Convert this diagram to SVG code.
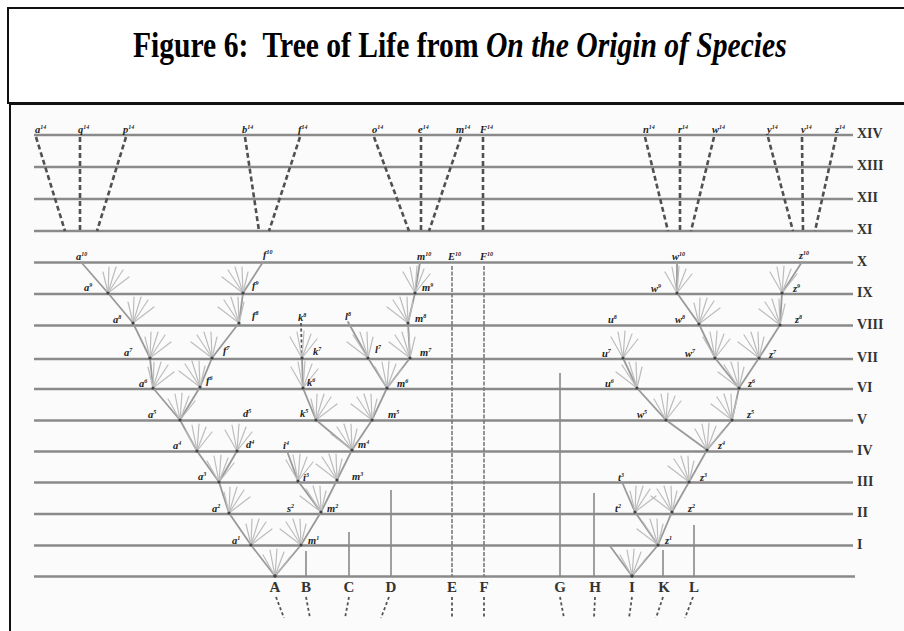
<svg xmlns="http://www.w3.org/2000/svg" xmlns:xlink="http://www.w3.org/1999/xlink" width="904" height="631" viewBox="0 0 904 631">
<style>
.hl{stroke:#8a8a8a;stroke-width:2.4}
.br{stroke:#9a9a9a;stroke-width:1.8;fill:none;stroke-linecap:round}
.fan line{stroke:#bcbcbc;stroke-width:1.2;stroke-linecap:round}
.dash{stroke:#505050;stroke-width:2.6;stroke-dasharray:5 3;fill:none}
.vt{stroke:#8a8a8a;stroke-width:1.6}
.dt{stroke:#7a7a7a;stroke-width:1.6;stroke-dasharray:4 1.5}
.sd{stroke:#555;stroke-width:1.8;stroke-dasharray:3 2.5}
.rn{font-family:"Liberation Serif",serif;font-weight:bold;font-size:14px;fill:#333}
.sp{font-family:"Liberation Serif",serif;font-weight:bold;font-size:15px;fill:#333;text-anchor:middle}
.lb{font-family:"Liberation Serif",serif;font-weight:bold;font-style:italic;font-size:10.5px;fill:#222}
.nd{fill:#444}
</style>
<defs>
<g id="fc" class="fan"><line x1="0" y1="0" x2="-12" y2="-21"/><line x1="0" y1="0" x2="-5" y2="-26"/><line x1="0" y1="0" x2="2" y2="-27"/><line x1="0" y1="0" x2="9" y2="-24"/><line x1="0" y1="0" x2="15" y2="-19"/></g>
<g id="fl" class="fan"><line x1="0" y1="0" x2="-21" y2="-16"/><line x1="0" y1="0" x2="-15" y2="-23"/><line x1="0" y1="0" x2="-8" y2="-26"/><line x1="0" y1="0" x2="-1" y2="-26"/><line x1="0" y1="0" x2="5" y2="-21"/></g>
<g id="fr" class="fan"><line x1="0" y1="0" x2="21" y2="-16"/><line x1="0" y1="0" x2="15" y2="-23"/><line x1="0" y1="0" x2="8" y2="-26"/><line x1="0" y1="0" x2="1" y2="-26"/><line x1="0" y1="0" x2="-5" y2="-21"/></g>
</defs>
<rect x="0" y="0" width="904" height="631" fill="#ffffff"/>
<rect x="10" y="104" width="900" height="530" fill="#fbfbfb" stroke="#111" stroke-width="2"/>
<g id="title">
<rect x="8" y="8" width="910" height="95" fill="#ffffff" stroke="#111" stroke-width="2"/>
<text transform="translate(133,57) scale(0.822,1)" x="0" y="0" xml:space="preserve" font-family="Liberation Serif, serif" font-weight="bold" font-size="36" fill="#000">Figure 6:  Tree of Life from <tspan font-style="italic">On the Origin of Species</tspan></text>
</g>
<g id="generations">
<line class="hl" x1="34" y1="135" x2="853" y2="135"/>
<line class="hl" x1="34" y1="167" x2="853" y2="167"/>
<line class="hl" x1="34" y1="199" x2="853" y2="199"/>
<line class="hl" x1="34" y1="231" x2="853" y2="231"/>
<line class="hl" x1="34" y1="262.5" x2="853" y2="262.5"/>
<line class="hl" x1="34" y1="294" x2="853" y2="294"/>
<line class="hl" x1="34" y1="325.5" x2="853" y2="325.5"/>
<line class="hl" x1="34" y1="359" x2="853" y2="359"/>
<line class="hl" x1="34" y1="389" x2="853" y2="389"/>
<line class="hl" x1="34" y1="420.5" x2="853" y2="420.5"/>
<line class="hl" x1="34" y1="451.5" x2="853" y2="451.5"/>
<line class="hl" x1="34" y1="482.5" x2="853" y2="482.5"/>
<line class="hl" x1="34" y1="514" x2="853" y2="514"/>
<line class="hl" x1="34" y1="545.5" x2="853" y2="545.5"/>
<line class="hl" x1="34" y1="576.5" x2="855" y2="576.5"/>
<text class="rn" x="857" y="138">XIV</text>
<text class="rn" x="857" y="170">XIII</text>
<text class="rn" x="857" y="202">XII</text>
<text class="rn" x="857" y="234">XI</text>
<text class="rn" x="857" y="266">X</text>
<text class="rn" x="857" y="297">IX</text>
<text class="rn" x="857" y="329">VIII</text>
<text class="rn" x="857" y="362">VII</text>
<text class="rn" x="857" y="392">VI</text>
<text class="rn" x="857" y="424">V</text>
<text class="rn" x="857" y="455">IV</text>
<text class="rn" x="857" y="486">III</text>
<text class="rn" x="857" y="517">II</text>
<text class="rn" x="857" y="549">I</text>
</g>
<g id="connectors">
<path class="br" d="M275,576 L251,545 M275,576 L301,545 M251,545 L229,513 L219,482 L197,451 L180,420 L153,388 L150,358 L133,323 L108,293 L81,262 M219,482 L237,451 M180,420 L200,387 L212,358 L239,323 L243,293 L263,262 M301,545 L321,512 L298,481 L287,451 M321,512 L337,480 L352,450 L316,420 L303,388 L302,358 M352,450 L372,420 L387,388 L368,358 L348,322 M387,388 L410,358 L408,323 L415,293 L420,262"/>
<path class="br" d="M632,576 L610,546 M632,576 L658,545 L635,512 L622,482 M658,545 L672,512 L689,482 L707,450 L666,420 L637,388 L623,358 M707,450 L732,420 L739,388 L715,358 L699,324 L677,293 L677,262 M739,388 L759,358 L780,325 L782,293 L802,262"/>
<line class="sd" x1="301" y1="323" x2="302" y2="358"/>
<g id="fans">
<use href="#fc" x="275" y="576"/><use href="#fr" x="251" y="545"/><use href="#fr" x="229" y="513"/><use href="#fc" x="219" y="482"/><use href="#fc" x="197" y="451"/><use href="#fc" x="180" y="420"/><use href="#fr" x="153" y="388"/><use href="#fr" x="150" y="358"/><use href="#fr" x="133" y="323"/><use href="#fr" x="108" y="293"/>
<use href="#fc" x="237" y="451"/><use href="#fl" x="200" y="387"/><use href="#fl" x="212" y="358"/><use href="#fl" x="239" y="323"/><use href="#fl" x="243" y="293"/>
<use href="#fl" x="301" y="545"/><use href="#fl" x="321" y="512"/><use href="#fc" x="298" y="481"/><use href="#fl" x="337" y="480"/><use href="#fl" x="352" y="450"/><use href="#fr" x="316" y="420"/><use href="#fl" x="372" y="420"/><use href="#fc" x="303" y="388"/><use href="#fc" x="302" y="358"/><use href="#fc" x="387" y="388"/><use href="#fl" x="368" y="358"/><use href="#fl" x="410" y="358"/><use href="#fl" x="408" y="323"/><use href="#fc" x="415" y="293"/>
<use href="#fc" x="632" y="576"/><use href="#fl" x="658" y="545"/><use href="#fr" x="635" y="512"/><use href="#fl" x="672" y="512"/><use href="#fl" x="689" y="482"/><use href="#fc" x="707" y="450"/><use href="#fc" x="666" y="420"/><use href="#fl" x="732" y="420"/><use href="#fl" x="637" y="388"/><use href="#fc" x="623" y="358"/><use href="#fl" x="739" y="388"/><use href="#fc" x="715" y="358"/><use href="#fl" x="759" y="358"/><use href="#fr" x="699" y="324"/><use href="#fc" x="677" y="293"/><use href="#fl" x="780" y="325"/><use href="#fc" x="782" y="293"/>
</g>
<path class="dash" d="M36,137 L65,231 M80,137 L80,231 M126,137 L97,231 M245,137 L259,231 M300,137 L269,231 M374,137 L409,231 M421,137 L421,231 M461,137 L429,231 M483,137 L483,231 M645,137 L668,231 M680,137 L680,231 M714,137 L691,231 M768,137 L793,231 M802,137 L803,231 M836,137 L815,231"/>
</g>
<g id="nodes">
<g class="nd"><circle cx="275" cy="576" r="1.8"/><circle cx="251" cy="545" r="1.6"/><circle cx="301" cy="545" r="1.6"/><circle cx="229" cy="513" r="1.6"/><circle cx="219" cy="482" r="1.6"/><circle cx="197" cy="451" r="1.6"/><circle cx="180" cy="420" r="1.6"/><circle cx="153" cy="388" r="1.6"/><circle cx="150" cy="358" r="1.6"/><circle cx="133" cy="323" r="1.6"/><circle cx="108" cy="293" r="1.6"/><circle cx="237" cy="451" r="1.6"/><circle cx="200" cy="387" r="1.6"/><circle cx="212" cy="358" r="1.6"/><circle cx="239" cy="323" r="1.6"/><circle cx="243" cy="293" r="1.6"/><circle cx="321" cy="512" r="1.6"/><circle cx="298" cy="481" r="1.6"/><circle cx="337" cy="480" r="1.6"/><circle cx="352" cy="450" r="1.6"/><circle cx="316" cy="420" r="1.6"/><circle cx="372" cy="420" r="1.6"/><circle cx="303" cy="388" r="1.6"/><circle cx="302" cy="358" r="1.6"/><circle cx="387" cy="388" r="1.6"/><circle cx="368" cy="358" r="1.6"/><circle cx="410" cy="358" r="1.6"/><circle cx="408" cy="323" r="1.6"/><circle cx="415" cy="293" r="1.6"/></g>
<g class="nd"><circle cx="632" cy="576" r="1.8"/><circle cx="658" cy="545" r="1.6"/><circle cx="635" cy="512" r="1.6"/><circle cx="672" cy="512" r="1.6"/><circle cx="689" cy="482" r="1.6"/><circle cx="707" cy="450" r="1.6"/><circle cx="666" cy="420" r="1.6"/><circle cx="732" cy="420" r="1.6"/><circle cx="637" cy="388" r="1.6"/><circle cx="623" cy="358" r="1.6"/><circle cx="739" cy="388" r="1.6"/><circle cx="715" cy="358" r="1.6"/><circle cx="759" cy="358" r="1.6"/><circle cx="699" cy="324" r="1.6"/><circle cx="677" cy="293" r="1.6"/><circle cx="780" cy="325" r="1.6"/><circle cx="782" cy="293" r="1.6"/></g>
</g>
<g id="labels">
<text class="lb" x="35" y="133">a<tspan dy="-4" font-size="6">14</tspan></text>
<text class="lb" x="78" y="133">q<tspan dy="-4" font-size="6">14</tspan></text>
<text class="lb" x="123" y="133">p<tspan dy="-4" font-size="6">14</tspan></text>
<text class="lb" x="242" y="133">b<tspan dy="-4" font-size="6">14</tspan></text>
<text class="lb" x="298" y="133">f<tspan dy="-4" font-size="6">14</tspan></text>
<text class="lb" x="372" y="133">o<tspan dy="-4" font-size="6">14</tspan></text>
<text class="lb" x="418" y="133">e<tspan dy="-4" font-size="6">14</tspan></text>
<text class="lb" x="456" y="133">m<tspan dy="-4" font-size="6">14</tspan></text>
<text class="lb" x="480" y="133">F<tspan dy="-4" font-size="6">14</tspan></text>
<text class="lb" x="643" y="133">n<tspan dy="-4" font-size="6">14</tspan></text>
<text class="lb" x="678" y="133">r<tspan dy="-4" font-size="6">14</tspan></text>
<text class="lb" x="712" y="133">w<tspan dy="-4" font-size="6">14</tspan></text>
<text class="lb" x="767" y="133">y<tspan dy="-4" font-size="6">14</tspan></text>
<text class="lb" x="801" y="133">v<tspan dy="-4" font-size="6">14</tspan></text>
<text class="lb" x="835" y="133">z<tspan dy="-4" font-size="6">14</tspan></text>
<text class="lb" x="76" y="260">a<tspan dy="-4" font-size="6">10</tspan></text>
<text class="lb" x="263" y="258">f<tspan dy="-4" font-size="6">10</tspan></text>
<text class="lb" x="417" y="260">m<tspan dy="-4" font-size="6">10</tspan></text>
<text class="lb" x="448" y="260">E<tspan dy="-4" font-size="6">10</tspan></text>
<text class="lb" x="480" y="260">F<tspan dy="-4" font-size="6">10</tspan></text>
<text class="lb" x="672" y="260">w<tspan dy="-4" font-size="6">10</tspan></text>
<text class="lb" x="799" y="259">z<tspan dy="-4" font-size="6">10</tspan></text>
<text class="lb" x="84" y="291">a<tspan dy="-4" font-size="6">9</tspan></text>
<text class="lb" x="252" y="289">f<tspan dy="-4" font-size="6">9</tspan></text>
<text class="lb" x="422" y="291">m<tspan dy="-4" font-size="6">9</tspan></text>
<text class="lb" x="651" y="292">w<tspan dy="-4" font-size="6">9</tspan></text>
<text class="lb" x="793" y="292">z<tspan dy="-4" font-size="6">9</tspan></text>
<text class="lb" x="113" y="323">a<tspan dy="-4" font-size="6">8</tspan></text>
<text class="lb" x="252" y="319">f<tspan dy="-4" font-size="6">8</tspan></text>
<text class="lb" x="298" y="321">k<tspan dy="-4" font-size="6">8</tspan></text>
<text class="lb" x="345" y="320">l<tspan dy="-4" font-size="6">8</tspan></text>
<text class="lb" x="415" y="322">m<tspan dy="-4" font-size="6">8</tspan></text>
<text class="lb" x="608" y="323">u<tspan dy="-4" font-size="6">8</tspan></text>
<text class="lb" x="675" y="323">w<tspan dy="-4" font-size="6">8</tspan></text>
<text class="lb" x="795" y="323">z<tspan dy="-4" font-size="6">8</tspan></text>
<text class="lb" x="124" y="356">a<tspan dy="-4" font-size="6">7</tspan></text>
<text class="lb" x="223" y="354">f<tspan dy="-4" font-size="6">7</tspan></text>
<text class="lb" x="313" y="355">k<tspan dy="-4" font-size="6">7</tspan></text>
<text class="lb" x="375" y="353">l<tspan dy="-4" font-size="6">7</tspan></text>
<text class="lb" x="420" y="356">m<tspan dy="-4" font-size="6">7</tspan></text>
<text class="lb" x="602" y="357">u<tspan dy="-4" font-size="6">7</tspan></text>
<text class="lb" x="685" y="357">w<tspan dy="-4" font-size="6">7</tspan></text>
<text class="lb" x="769" y="358">z<tspan dy="-4" font-size="6">7</tspan></text>
<text class="lb" x="139" y="387">a<tspan dy="-4" font-size="6">6</tspan></text>
<text class="lb" x="206" y="384">f<tspan dy="-4" font-size="6">6</tspan></text>
<text class="lb" x="307" y="386">k<tspan dy="-4" font-size="6">6</tspan></text>
<text class="lb" x="397" y="387">m<tspan dy="-4" font-size="6">6</tspan></text>
<text class="lb" x="605" y="387">u<tspan dy="-4" font-size="6">6</tspan></text>
<text class="lb" x="748" y="387">z<tspan dy="-4" font-size="6">6</tspan></text>
<text class="lb" x="148" y="418">a<tspan dy="-4" font-size="6">5</tspan></text>
<text class="lb" x="243" y="417">d<tspan dy="-4" font-size="6">5</tspan></text>
<text class="lb" x="300" y="417">k<tspan dy="-4" font-size="6">5</tspan></text>
<text class="lb" x="388" y="418">m<tspan dy="-4" font-size="6">5</tspan></text>
<text class="lb" x="637" y="418">w<tspan dy="-4" font-size="6">5</tspan></text>
<text class="lb" x="747" y="418">z<tspan dy="-4" font-size="6">5</tspan></text>
<text class="lb" x="173" y="449">a<tspan dy="-4" font-size="6">4</tspan></text>
<text class="lb" x="246" y="448">d<tspan dy="-4" font-size="6">4</tspan></text>
<text class="lb" x="283" y="449">i<tspan dy="-4" font-size="6">4</tspan></text>
<text class="lb" x="358" y="448">m<tspan dy="-4" font-size="6">4</tspan></text>
<text class="lb" x="718" y="449">z<tspan dy="-4" font-size="6">4</tspan></text>
<text class="lb" x="198" y="480">a<tspan dy="-4" font-size="6">3</tspan></text>
<text class="lb" x="303" y="481">i<tspan dy="-4" font-size="6">3</tspan></text>
<text class="lb" x="352" y="480">m<tspan dy="-4" font-size="6">3</tspan></text>
<text class="lb" x="618" y="481">t<tspan dy="-4" font-size="6">3</tspan></text>
<text class="lb" x="700" y="481">z<tspan dy="-4" font-size="6">3</tspan></text>
<text class="lb" x="212" y="512">a<tspan dy="-4" font-size="6">2</tspan></text>
<text class="lb" x="287" y="512">s<tspan dy="-4" font-size="6">2</tspan></text>
<text class="lb" x="327" y="512">m<tspan dy="-4" font-size="6">2</tspan></text>
<text class="lb" x="615" y="512">t<tspan dy="-4" font-size="6">2</tspan></text>
<text class="lb" x="688" y="512">z<tspan dy="-4" font-size="6">2</tspan></text>
<text class="lb" x="232" y="544">a<tspan dy="-4" font-size="6">1</tspan></text>
<text class="lb" x="308" y="544">m<tspan dy="-4" font-size="6">1</tspan></text>
<text class="lb" x="665" y="544">z<tspan dy="-4" font-size="6">1</tspan></text>
</g>
<g id="species-A"><text class="sp" x="275" y="592">A</text><line class="sd" x1="276" y1="597" x2="284" y2="618"/></g>
<g id="species-B"><line class="vt" x1="306" y1="551" x2="306" y2="577"/><text class="sp" x="306" y="592">B</text><line class="sd" x1="306" y1="597" x2="310" y2="618"/></g>
<g id="species-C"><line class="vt" x1="349" y1="532" x2="349" y2="577"/><text class="sp" x="349" y="592">C</text><line class="sd" x1="349" y1="597" x2="345" y2="618"/></g>
<g id="species-D"><line class="vt" x1="391" y1="490" x2="391" y2="577"/><text class="sp" x="391" y="592">D</text><line class="sd" x1="389" y1="597" x2="381" y2="618"/></g>
<g id="species-E"><line class="dt" x1="452" y1="266" x2="452" y2="577"/><text class="sp" x="452" y="592">E</text><line class="sd" x1="452" y1="597" x2="452" y2="618"/></g>
<g id="species-F"><line class="dt" x1="484" y1="266" x2="484" y2="577"/><text class="sp" x="484" y="592">F</text><line class="sd" x1="484" y1="597" x2="484" y2="618"/></g>
<g id="species-G"><line class="vt" x1="560" y1="373" x2="560" y2="577"/><text class="sp" x="560" y="592">G</text><line class="sd" x1="560" y1="597" x2="564" y2="618"/></g>
<g id="species-H"><line class="vt" x1="594" y1="493" x2="594" y2="577"/><text class="sp" x="595" y="592">H</text><line class="sd" x1="595" y1="597" x2="594" y2="618"/></g>
<g id="species-I"><text class="sp" x="632" y="592">I</text><line class="sd" x1="632" y1="597" x2="629" y2="618"/></g>
<g id="species-K"><line class="vt" x1="663" y1="550" x2="663" y2="577"/><text class="sp" x="664" y="592">K</text><line class="sd" x1="663" y1="597" x2="656" y2="618"/></g>
<g id="species-L"><line class="vt" x1="694" y1="525" x2="694" y2="577"/><text class="sp" x="694" y="592">L</text><line class="sd" x1="693" y1="597" x2="685" y2="618"/></g>
</svg>
